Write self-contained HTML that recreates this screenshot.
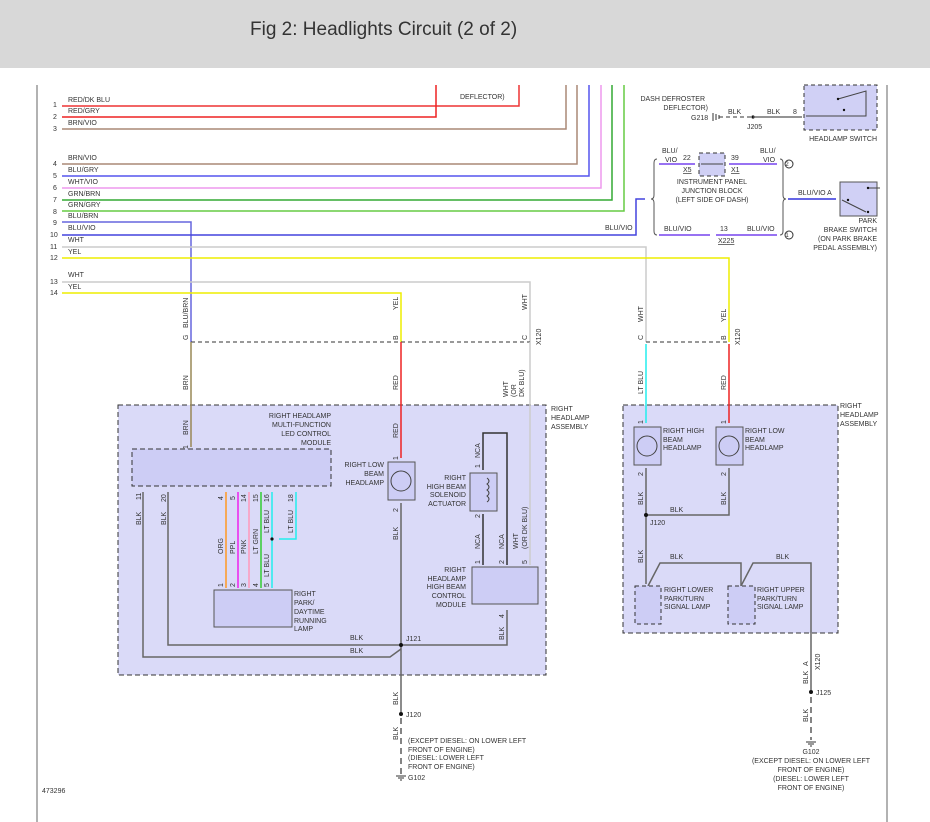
<!DOCTYPE html>
<html><head><meta charset="utf-8"><style>
html,body{margin:0;padding:0;background:#fff;}
svg{display:block;font-family:"Liberation Sans",Arial,sans-serif;}
.t{font-size:7px;fill:#333;}
.r{text-anchor:end;}
.m{text-anchor:middle;}
</style></head><body>
<svg width="930" height="822" viewBox="0 0 930 822" xmlns="http://www.w3.org/2000/svg">
<rect x="0" y="0" width="930" height="68" fill="#d8d8d8"/>
<text x="250" y="35" font-size="19" fill="#333">Fig 2: Headlights Circuit (2 of 2)</text>
<line x1="37" y1="85" x2="37" y2="822" stroke="#999" stroke-width="1.5"/>
<line x1="887" y1="85" x2="887" y2="822" stroke="#999" stroke-width="1.5"/>

<g fill="none" stroke-width="1.5">
<polyline points="62,106 519,106 519,85" stroke="#e33"/>
<polyline points="62,117 436,117 436,85" stroke="#e22"/>
<polyline points="62,129 566,129 566,85" stroke="#a87"/>
<polyline points="62,164 577,164 577,85" stroke="#a87"/>
<polyline points="62,176 589,176 589,85" stroke="#55e"/>
<polyline points="62,188 601,188 601,85" stroke="#e9e"/>
<polyline points="62,200 612,200 612,85" stroke="#3a3"/>
<polyline points="62,211 624,211 624,85" stroke="#6c4"/>
<polyline points="62,222 191,222 191,342" stroke="#66d"/>
<polyline points="62,235 636,235 636,199 645,199" stroke="#44d"/>
<polyline points="62,247 646,247 646,342" stroke="#ccc"/>
<polyline points="62,258 729,258 729,342" stroke="#ee0"/>
<polyline points="62,282 530,282 530,342" stroke="#ccc"/>
<polyline points="62,293 401,293 401,342" stroke="#ee0"/>
</g>
<g class="t">
<text x="53" y="107">1</text><text x="53" y="119">2</text><text x="53" y="131">3</text>
<text x="53" y="166">4</text><text x="53" y="178">5</text><text x="53" y="190">6</text>
<text x="53" y="202">7</text><text x="53" y="214">8</text><text x="53" y="225">9</text>
<text x="50" y="237">10</text><text x="50" y="249">11</text><text x="50" y="260">12</text>
<text x="50" y="284">13</text><text x="50" y="295">14</text>
<text x="68" y="102">RED/DK BLU</text><text x="68" y="113">RED/GRY</text><text x="68" y="125">BRN/VIO</text>
<text x="68" y="160">BRN/VIO</text><text x="68" y="172">BLU/GRY</text><text x="68" y="184">WHT/VIO</text>
<text x="68" y="196">GRN/BRN</text><text x="68" y="207">GRN/GRY</text><text x="68" y="218">BLU/BRN</text>
<text x="68" y="230">BLU/VIO</text><text x="68" y="242">WHT</text><text x="68" y="254">YEL</text>
<text x="68" y="277">WHT</text><text x="68" y="289">YEL</text>
<text x="460" y="99">DEFLECTOR)</text>
<text x="605" y="230">BLU/VIO</text>
</g>

<line x1="191" y1="342" x2="530" y2="342" stroke="#333" stroke-dasharray="4,3"/>
<line x1="646" y1="342" x2="729" y2="342" stroke="#333" stroke-dasharray="4,3"/>
<g class="t">
<text transform="translate(188,340) rotate(-90)">G</text>
<text transform="translate(188,328) rotate(-90)">BLU/BRN</text>
<text transform="translate(398,340) rotate(-90)">B</text>
<text transform="translate(398,310) rotate(-90)">YEL</text>
<text transform="translate(527,340) rotate(-90)">C</text>
<text transform="translate(527,310) rotate(-90)">WHT</text>
<text transform="translate(541,345) rotate(-90)">X120</text>
<text transform="translate(643,340) rotate(-90)">C</text>
<text transform="translate(643,322) rotate(-90)">WHT</text>
<text transform="translate(726,340) rotate(-90)">B</text>
<text transform="translate(726,322) rotate(-90)">YEL</text>
<text transform="translate(740,345) rotate(-90)">X120</text>
</g>

<rect x="118" y="405" width="428" height="270" fill="#dadaf8" stroke="#333" stroke-dasharray="5,3"/>
<line x1="191" y1="342" x2="191" y2="447" stroke="#985" stroke-width="1.5"/>
<line x1="401" y1="342" x2="401" y2="458" stroke="#e22" stroke-width="1.5"/>
<line x1="530" y1="342" x2="530" y2="565" stroke="#ccc" stroke-width="1.5"/>
<g class="t">
<text transform="translate(188,390) rotate(-90)">BRN</text>
<text transform="translate(398,390) rotate(-90)">RED</text>
<text transform="translate(508,397) rotate(-90)">WHT</text>
<text transform="translate(516,397) rotate(-90)">(OR</text>
<text transform="translate(524,397) rotate(-90)">DK BLU)</text>
<text transform="translate(188,435) rotate(-90)">BRN</text>
<text transform="translate(188,449) rotate(-90)">1</text>
<text x="551" y="411">RIGHT</text><text x="551" y="420">HEADLAMP</text><text x="551" y="429">ASSEMBLY</text>
<text x="331" y="418" class="r">RIGHT HEADLAMP</text>
<text x="331" y="427" class="r">MULTI-FUNCTION</text>
<text x="331" y="436" class="r">LED CONTROL</text>
<text x="331" y="445" class="r">MODULE</text>
</g>
<rect x="132" y="449" width="199" height="37" fill="#cdcdf5" stroke="#333" stroke-dasharray="5,3"/>
<g fill="none" stroke-width="1.5">
<polyline points="143,492 143,657 390,657 401,649" stroke="#666"/>
<polyline points="168,492 168,645 507,645 507,610" stroke="#666"/>
<line x1="401" y1="503" x2="401" y2="712" stroke="#666"/>
<line x1="226" y1="492" x2="226" y2="588" stroke="#f92"/>
<line x1="238" y1="492" x2="238" y2="588" stroke="#e2e"/>
<line x1="249" y1="492" x2="249" y2="588" stroke="#f9b"/>
<line x1="261" y1="492" x2="261" y2="588" stroke="#3c3"/>
<line x1="272" y1="492" x2="272" y2="588" stroke="#2ee"/>
<polyline points="296,492 296,539 279,539" stroke="#2ee"/>
<polyline points="483,470 483,433 507,433 507,565" stroke="#333"/>
<line x1="483" y1="514" x2="483" y2="565" stroke="#333"/>
</g>
<circle cx="272" cy="539" r="1.6" fill="#111"/>
<circle cx="401" cy="645" r="2" fill="#111"/>
<g class="t">
<text transform="translate(141,500) rotate(-90)">11</text>
<text transform="translate(166,502) rotate(-90)">20</text>
<text transform="translate(141,525) rotate(-90)">BLK</text>
<text transform="translate(166,525) rotate(-90)">BLK</text>
<text transform="translate(223,500) rotate(-90)">4</text>
<text transform="translate(235,500) rotate(-90)">5</text>
<text transform="translate(246,502) rotate(-90)">14</text>
<text transform="translate(258,502) rotate(-90)">15</text>
<text transform="translate(269,502) rotate(-90)">16</text>
<text transform="translate(293,502) rotate(-90)">18</text>
<text transform="translate(223,554) rotate(-90)">ORG</text>
<text transform="translate(235,554) rotate(-90)">PPL</text>
<text transform="translate(246,554) rotate(-90)">PNK</text>
<text transform="translate(258,554) rotate(-90)">LT GRN</text>
<text transform="translate(269,533) rotate(-90)">LT BLU</text>
<text transform="translate(293,533) rotate(-90)">LT BLU</text>
<text transform="translate(269,577) rotate(-90)">LT BLU</text>
<text transform="translate(223,587) rotate(-90)">1</text>
<text transform="translate(235,587) rotate(-90)">2</text>
<text transform="translate(246,587) rotate(-90)">3</text>
<text transform="translate(258,587) rotate(-90)">4</text>
<text transform="translate(269,587) rotate(-90)">5</text>
<text x="294" y="596">RIGHT</text><text x="294" y="605">PARK/</text><text x="294" y="614">DAYTIME</text>
<text x="294" y="623">RUNNING</text><text x="294" y="631">LAMP</text>
<text transform="translate(398,438) rotate(-90)">RED</text>
<text transform="translate(398,460) rotate(-90)">1</text>
<text transform="translate(398,512) rotate(-90)">2</text>
<text transform="translate(398,540) rotate(-90)">BLK</text>
<text x="384" y="467" class="r">RIGHT LOW</text><text x="384" y="476" class="r">BEAM</text><text x="384" y="485" class="r">HEADLAMP</text>
<text transform="translate(480,458) rotate(-90)">NCA</text>
<text transform="translate(480,468) rotate(-90)">1</text>
<text transform="translate(480,518) rotate(-90)">2</text>
<text transform="translate(480,549) rotate(-90)">NCA</text>
<text transform="translate(504,549) rotate(-90)">NCA</text>
<text transform="translate(518,549) rotate(-90)">WHT</text>
<text transform="translate(527,549) rotate(-90)">(OR DK BLU)</text>
<text transform="translate(480,564) rotate(-90)">1</text>
<text transform="translate(504,564) rotate(-90)">2</text>
<text transform="translate(527,564) rotate(-90)">5</text>
<text x="466" y="480" class="r">RIGHT</text><text x="466" y="489" class="r">HIGH BEAM</text>
<text x="466" y="497" class="r">SOLENOID</text><text x="466" y="506" class="r">ACTUATOR</text>
<text x="466" y="572" class="r">RIGHT</text><text x="466" y="581" class="r">HEADLAMP</text>
<text x="466" y="589" class="r">HIGH BEAM</text><text x="466" y="598" class="r">CONTROL</text>
<text x="466" y="607" class="r">MODULE</text>
<text transform="translate(504,618) rotate(-90)">4</text>
<text transform="translate(504,640) rotate(-90)">BLK</text>
<text x="350" y="640">BLK</text><text x="350" y="653">BLK</text>
<text x="406" y="641">J121</text>
</g>
<rect x="214" y="590" width="78" height="37" fill="#cdcdf5" stroke="#555"/>
<rect x="388" y="462" width="27" height="38" fill="#cdcdf5" stroke="#555"/>
<circle cx="401" cy="481" r="10" fill="none" stroke="#444"/>
<rect x="470" y="473" width="27" height="38" fill="#cdcdf5" stroke="#555"/>
<path d="M487,478 q4,3 0,6 q4,3 0,6 q4,3 0,6 q4,3 0,6" fill="none" stroke="#444"/>
<rect x="472" y="567" width="66" height="37" fill="#cdcdf5" stroke="#555"/>

<circle cx="401" cy="714" r="2" fill="#111"/>
<line x1="401" y1="718" x2="401" y2="774" stroke="#333" stroke-dasharray="6,4" stroke-width="1.2"/>
<path d="M396,776 h10 M398,778 h6 M400,780 h2" stroke="#333"/>
<g class="t">
<text transform="translate(398,705) rotate(-90)">BLK</text>
<text x="406" y="717">J120</text>
<text transform="translate(398,740) rotate(-90)">BLK</text>
<text x="408" y="743">(EXCEPT DIESEL: ON LOWER LEFT</text>
<text x="408" y="752">FRONT OF ENGINE)</text>
<text x="408" y="760">(DIESEL: LOWER LEFT</text>
<text x="408" y="769">FRONT OF ENGINE)</text>
<text x="408" y="780">G102</text>
<text x="42" y="793">473296</text>
</g>

<rect x="623" y="405" width="215" height="228" fill="#dadaf8" stroke="#333" stroke-dasharray="5,3"/>
<line x1="646" y1="344" x2="646" y2="423" stroke="#2ee" stroke-width="1.5"/>
<line x1="729" y1="344" x2="729" y2="423" stroke="#e22" stroke-width="1.5"/>
<rect x="634" y="427" width="27" height="38" fill="#cdcdf5" stroke="#555"/>
<circle cx="647" cy="446" r="10" fill="none" stroke="#444"/>
<rect x="716" y="427" width="27" height="38" fill="#cdcdf5" stroke="#555"/>
<circle cx="729" cy="446" r="10" fill="none" stroke="#444"/>
<g fill="none" stroke="#666" stroke-width="1.5">
<polyline points="646,468 646,584"/>
<polyline points="646,515 729,515 729,468"/>
<polyline points="648,586 660,563 741,563 741,586"/>
<polyline points="741,586 753,563 811,563 811,690"/>
</g>
<circle cx="646" cy="515" r="2" fill="#111"/>
<rect x="635" y="586" width="26" height="38" fill="#cdcdf5" stroke="#333" stroke-dasharray="4,3"/>
<rect x="728" y="586" width="27" height="38" fill="#cdcdf5" stroke="#333" stroke-dasharray="4,3"/>
<g class="t">
<text transform="translate(643,394) rotate(-90)">LT BLU</text>
<text transform="translate(726,390) rotate(-90)">RED</text>
<text transform="translate(643,424) rotate(-90)">1</text>
<text transform="translate(726,424) rotate(-90)">1</text>
<text transform="translate(643,476) rotate(-90)">2</text>
<text transform="translate(726,476) rotate(-90)">2</text>
<text transform="translate(643,505) rotate(-90)">BLK</text>
<text transform="translate(726,505) rotate(-90)">BLK</text>
<text transform="translate(643,563) rotate(-90)">BLK</text>
<text x="670" y="512">BLK</text><text x="650" y="525">J120</text>
<text x="670" y="559">BLK</text><text x="776" y="559">BLK</text>
<text x="663" y="433">RIGHT HIGH</text><text x="663" y="442">BEAM</text><text x="663" y="450">HEADLAMP</text>
<text x="745" y="433">RIGHT LOW</text><text x="745" y="442">BEAM</text><text x="745" y="450">HEADLAMP</text>
<text x="664" y="592">RIGHT LOWER</text><text x="664" y="601">PARK/TURN</text><text x="664" y="609">SIGNAL LAMP</text>
<text x="757" y="592">RIGHT UPPER</text><text x="757" y="601">PARK/TURN</text><text x="757" y="609">SIGNAL LAMP</text>
<text x="840" y="408">RIGHT</text><text x="840" y="417">HEADLAMP</text><text x="840" y="426">ASSEMBLY</text>
<text transform="translate(808,666) rotate(-90)">A</text>
<text transform="translate(808,684) rotate(-90)">BLK</text>
<text transform="translate(820,670) rotate(-90)">X120</text>
<text x="816" y="695">J125</text>
<text transform="translate(808,722) rotate(-90)">BLK</text>
<text x="811" y="754" class="m">G102</text>
<text x="811" y="763" class="m">(EXCEPT DIESEL: ON LOWER LEFT</text>
<text x="811" y="772" class="m">FRONT OF ENGINE)</text>
<text x="811" y="781" class="m">(DIESEL: LOWER LEFT</text>
<text x="811" y="790" class="m">FRONT OF ENGINE)</text>
</g>
<circle cx="811" cy="692" r="2" fill="#111"/>
<line x1="811" y1="697" x2="811" y2="740" stroke="#333" stroke-dasharray="6,4" stroke-width="1.2"/>
<path d="M806,742 h10 M808,744 h6 M810,746 h2" stroke="#333"/>

<g class="t">
<text x="705" y="101" class="r">DASH DEFROSTER</text>
<text x="708" y="110" class="r">DEFLECTOR)</text>
<text x="691" y="120">G218</text>
<text x="728" y="114">BLK</text><text x="767" y="114">BLK</text>
<text x="747" y="129">J205</text><text x="793" y="114">8</text>
<text x="812" y="101">AUTO</text><text x="822" y="112">OFF</text>
<text x="877" y="141" class="r">HEADLAMP SWITCH</text>
</g>
<path d="M713,113 v8 M716,114 v6 M719,115 v4" stroke="#333"/>
<line x1="719" y1="117" x2="753" y2="117" stroke="#333" stroke-dasharray="4,3"/>
<circle cx="753" cy="117" r="1.6" fill="#111"/>
<line x1="753" y1="117" x2="802" y2="117" stroke="#555" stroke-width="1.2"/>
<rect x="804" y="85" width="73" height="45" fill="#d0d0f5" stroke="#333" stroke-dasharray="4,3"/>
<path d="M838,99 l28,-8 v25 h-60" fill="none" stroke="#444"/>
<circle cx="838" cy="99" r="1.2" fill="#111"/><circle cx="844" cy="110" r="1.2" fill="#111"/>

<path d="M657,159 q-3,0 -3,4 v32 q0,4 -3,4 q3,0 3,4 v28 q0,4 3,4" fill="none" stroke="#555"/>
<path d="M780,159 q3,0 3,4 v32 q0,4 3,4 q-3,0 -3,4 v28 q0,4 -3,4" fill="none" stroke="#555"/>
<line x1="659" y1="164" x2="695" y2="164" stroke="#74e" stroke-width="1.5"/>
<line x1="729" y1="164" x2="777" y2="164" stroke="#74e" stroke-width="1.5"/>
<rect x="699" y="153" width="26" height="23" fill="#d0d0f5" stroke="#333" stroke-dasharray="4,3"/>
<line x1="701" y1="164" x2="723" y2="164" stroke="#444"/>
<line x1="659" y1="235" x2="710" y2="235" stroke="#74e" stroke-width="1.5"/>
<line x1="716" y1="235" x2="777" y2="235" stroke="#74e" stroke-width="1.5"/>
<circle cx="789" cy="164" r="4" fill="none" stroke="#333"/>
<circle cx="789" cy="235" r="4" fill="none" stroke="#333"/>
<line x1="788" y1="199" x2="836" y2="199" stroke="#33d" stroke-width="1.5"/>
<rect x="840" y="182" width="37" height="34" fill="#d0d0f5" stroke="#555"/>
<path d="M842,200 l24,12 M868,188 h12" fill="none" stroke="#444"/>
<circle cx="848" cy="200" r="1.2" fill="#111"/><circle cx="868" cy="212" r="1.2" fill="#111"/><circle cx="868" cy="188" r="1.2" fill="#111"/>
<g class="t">
<text x="662" y="153">BLU/</text><text x="665" y="162">VIO</text>
<text x="683" y="160">22</text><text x="683" y="172" text-decoration="underline">X5</text>
<text x="731" y="160">39</text><text x="731" y="172" text-decoration="underline">X1</text>
<text x="760" y="153">BLU/</text><text x="763" y="162">VIO</text>
<text x="787" y="166" class="m" font-size="6">2</text>
<text x="787" y="237" class="m" font-size="6">1</text>
<text x="712" y="184" class="m">INSTRUMENT PANEL</text>
<text x="712" y="193" class="m">JUNCTION BLOCK</text>
<text x="712" y="202" class="m">(LEFT SIDE OF DASH)</text>
<text x="664" y="231">BLU/VIO</text>
<text x="720" y="231">13</text>
<text x="718" y="243" text-decoration="underline">X225</text>
<text x="747" y="231">BLU/VIO</text>
<text x="798" y="195">BLU/VIO A</text>
<text x="877" y="223" class="r">PARK</text>
<text x="877" y="232" class="r">BRAKE SWITCH</text>
<text x="877" y="241" class="r">(ON PARK BRAKE</text>
<text x="877" y="250" class="r">PEDAL ASSEMBLY)</text>
</g>
</svg>
</body></html>
